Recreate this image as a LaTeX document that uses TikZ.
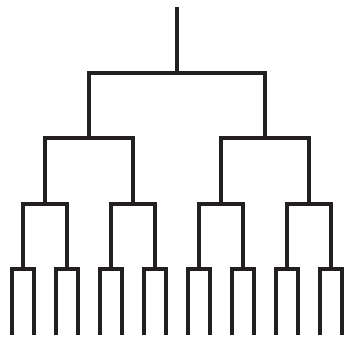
\documentclass[tikz,border=0pt]{standalone}
\definecolor{ink}{HTML}{231F20}
\begin{document}
\begin{tikzpicture}[x=1pt,y=-1pt,
  tree/.style={line width=4pt, draw=ink, line join=miter}]
\useasboundingbox (0,0) rectangle (347,338);
\coordinate (top) at (176.7,7);
\coordinate (L0-0) at (176.7,73);
\foreach \i in {0,1} \coordinate (L1-\i) at ({88.7+176*\i},138);
\foreach \i in {0,...,3} \coordinate (L2-\i) at ({44.7+88*\i},204);
\foreach \i in {0,...,7} \coordinate (L3-\i) at ({22.7+44*\i},269);
\foreach \i in {0,...,15} \coordinate (L4-\i) at ({11.7+22*\i},335);
\draw[tree] (top) -- (L0-0);
\foreach \lev/\n in {0/0,1/1,2/3,3/7}{
  \pgfmathtruncatemacro\nxt{\lev+1}
  \foreach \i in {0,...,\n}{
    \pgfmathtruncatemacro\a{2*\i}
    \pgfmathtruncatemacro\b{2*\i+1}
    \draw[tree] (L\nxt-\a) |- (L\lev-\i) -| (L\nxt-\b);
  }
}
\end{tikzpicture}
\end{document}
